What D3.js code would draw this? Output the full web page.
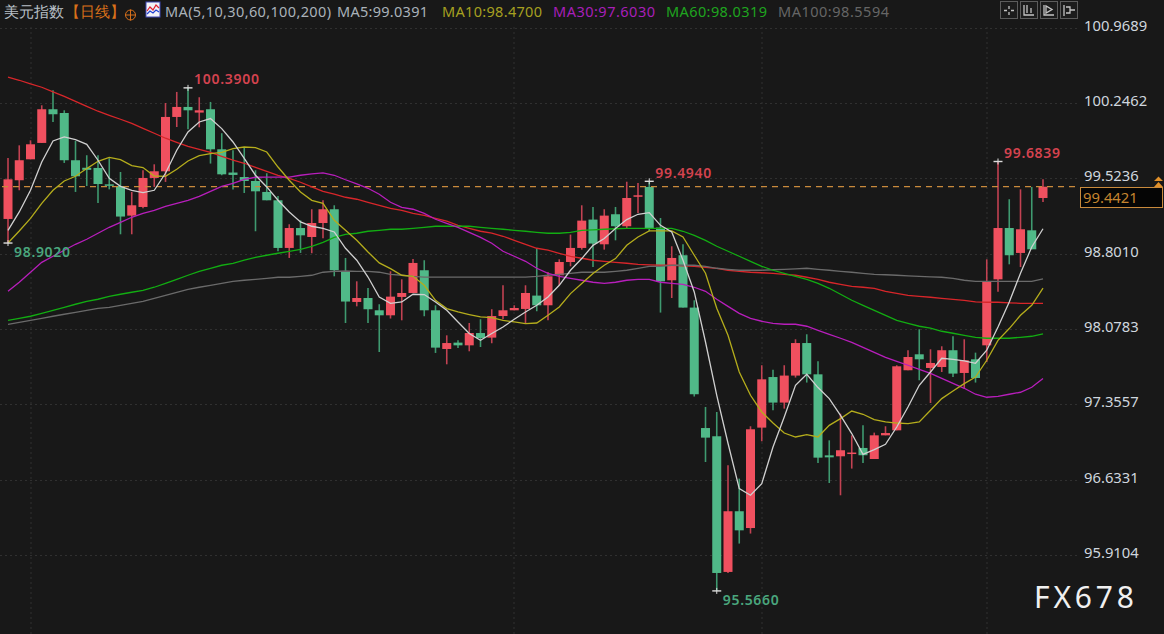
<!DOCTYPE html>
<html><head><meta charset="utf-8">
<script src="https://cdnjs.cloudflare.com/ajax/libs/d3/7.8.5/d3.min.js"></script>
<style>
html,body{margin:0;padding:0;background:#181818;overflow:hidden}
svg{display:block}
text{font-family:"Noto Sans","Liberation Sans",sans-serif}
</style></head><body>
<svg id="c" width="1164" height="634"></svg>
<script>
const tickValues=[100.9689,100.2462,99.5236,98.8010,98.0783,97.3557,96.6331,95.9104];
const lastPrice=99.4421;
const opens=[99.133,99.504,99.705,99.862,100.185,100.149,99.696,99.624,99.622,99.465,
99.449,99.165,99.248,99.526,99.590,100.111,100.207,100.153,100.185,99.801,
99.578,99.535,99.497,99.392,99.312,98.855,99.046,98.960,99.094,99.226,
98.631,98.337,98.375,98.257,98.209,98.385,98.423,98.641,98.257,97.886,
97.947,97.921,98.039,97.995,98.202,98.257,98.270,98.398,98.305,98.593,
98.720,98.855,99.127,98.890,99.178,99.063,99.350,99.440,99.050,98.545,
98.785,98.283,97.128,97.049,95.748,96.330,96.169,97.132,97.617,97.372,
97.631,97.943,97.643,96.866,96.857,96.883,96.937,96.831,97.058,97.106,
97.682,97.835,97.704,97.713,97.874,97.656,97.787,97.921,98.554,99.046,
98.807,99.024,99.334];
const closes=[99.513,99.696,99.849,100.185,100.137,99.696,99.542,99.604,99.468,99.453,
99.156,99.264,99.526,99.590,100.111,100.207,100.175,100.175,99.801,99.561,
99.555,99.497,99.398,99.312,98.855,99.046,98.976,99.094,99.226,98.641,
98.341,98.375,98.267,98.209,98.388,98.423,98.711,98.257,97.899,97.943,
97.921,98.039,97.991,98.202,98.257,98.279,98.423,98.305,98.583,98.720,
98.855,99.117,98.897,99.165,99.063,99.334,99.360,99.041,98.535,98.759,
98.283,97.452,97.036,95.738,96.330,96.147,97.116,97.595,97.372,97.631,
97.943,97.643,96.844,96.847,96.915,96.893,96.867,97.058,97.080,97.720,
97.809,97.787,97.752,97.874,97.650,97.778,97.608,98.538,99.046,98.785,
99.034,98.842,99.4421];
const highs=[99.718,99.839,99.887,100.223,100.367,100.175,99.881,99.744,99.744,99.715,
99.583,99.392,99.600,99.657,100.245,100.351,100.390,100.300,100.255,99.955,
99.792,99.820,99.600,99.571,99.353,99.082,99.120,99.226,99.312,99.264,
98.759,98.535,98.471,98.315,98.631,98.554,98.749,98.737,98.305,98.017,
97.969,98.135,98.171,98.267,98.497,98.305,98.497,98.855,98.624,98.746,
98.983,99.264,99.248,99.226,99.248,99.490,99.478,99.494,99.142,98.871,
98.890,98.353,97.330,97.282,96.771,96.643,97.145,97.730,97.688,97.730,
97.979,98.027,97.768,97.010,97.266,97.058,97.154,97.084,97.145,97.730,
97.874,98.075,97.883,97.912,98.008,97.979,97.851,98.746,99.6839,99.322,
99.417,99.440,99.513];
const lows=[98.902,99.408,99.705,99.862,100.063,99.670,99.392,99.449,99.286,99.417,
98.986,98.986,99.235,99.440,99.488,100.015,99.993,100.012,99.664,99.552,
99.415,99.382,99.015,99.312,98.823,98.759,98.807,98.804,98.948,98.583,
98.135,98.295,98.135,97.857,98.178,98.161,98.423,98.200,97.848,97.739,
97.896,97.864,97.905,97.941,98.171,98.257,98.130,98.248,98.161,98.497,
98.679,98.839,98.672,98.839,98.928,99.043,99.190,99.015,98.235,98.375,
98.283,97.430,96.802,95.566,95.738,96.020,96.116,97.001,97.298,97.314,
97.612,97.564,96.793,96.601,96.483,96.739,96.793,96.831,97.058,97.106,
97.682,97.586,97.368,97.665,97.617,97.509,97.564,97.761,98.436,98.698,
98.672,98.842,99.296];
const ma5=[99.024,99.200,99.408,99.679,99.881,99.919,99.894,99.849,99.696,99.523,99.446,99.408,99.386,99.408,99.571,99.792,99.967,100.063,100.096,99.999,99.871,99.715,99.552,
99.440,99.312,99.200,99.104,99.063,99.043,99.008,98.852,98.737,98.576,98.385,98.324,98.337,98.411,98.408,98.337,98.257,98.145,98.034,97.969,98.034,98.097,98.171,
98.241,98.305,98.385,98.497,98.641,98.753,98.880,98.945,99.041,99.127,99.178,99.194,99.072,99.008,98.737,98.433,
97.953,97.442,96.982,96.547,96.483,96.595,96.946,97.234,97.538,97.643,97.516,97.410,97.250,97.075,96.876,96.921,96.972,
97.138,97.330,97.538,97.665,97.797,97.787,97.771,97.749,97.874,98.097,98.337,98.612,98.864,99.0391];
const ma10=[98.903,99.018,99.139,99.283,99.408,99.497,99.542,99.616,99.686,99.724,99.702,99.645,99.626,99.545,99.542,99.609,99.689,99.741,99.760,99.772,99.808,99.823,99.817,
99.775,99.631,99.504,99.392,99.312,99.283,99.120,99.024,98.928,98.816,98.711,98.657,98.593,98.583,98.497,98.353,98.273,98.241,98.216,98.193,98.187,98.161,98.145,
98.130,98.135,98.209,98.289,98.417,98.513,98.609,98.689,98.753,98.880,98.960,99.018,99.018,99.018,98.960,98.785,
98.612,98.276,98.017,97.665,97.442,97.282,97.176,97.080,97.042,97.065,97.042,97.154,97.218,97.291,97.260,97.209,97.186,
97.176,97.171,97.186,97.298,97.410,97.483,97.554,97.617,97.778,97.969,98.082,98.209,98.305,98.4700];
const ma30=[98.439,98.526,98.622,98.717,98.775,98.833,98.890,98.938,98.996,99.053,99.101,99.149,99.187,99.216,99.254,99.283,99.312,99.350,99.398,99.446,99.475,99.513,99.533,
99.535,99.535,99.535,99.552,99.566,99.574,99.552,99.509,99.470,99.427,99.370,99.293,99.245,99.226,99.187,99.130,99.091,99.053,99.005,98.957,98.900,98.823,98.775,
98.727,98.660,98.612,98.583,98.564,98.545,98.526,98.516,98.526,98.545,98.554,98.554,98.526,98.516,98.506,98.478,
98.439,98.363,98.295,98.228,98.180,98.152,98.132,98.123,98.123,98.104,98.065,98.027,97.989,97.950,97.902,97.854,97.806,
97.768,97.730,97.691,97.653,97.605,97.557,97.509,97.452,97.423,97.432,97.452,97.471,97.519,97.6030];
const ma60=[98.161,98.180,98.200,98.228,98.257,98.286,98.315,98.343,98.363,98.391,98.411,98.430,98.449,98.478,98.516,98.554,98.593,98.631,98.660,98.689,98.708,98.737,98.765,
98.785,98.804,98.823,98.842,98.871,98.909,98.957,98.986,98.996,99.015,99.024,99.034,99.034,99.043,99.053,99.063,99.063,99.063,99.063,99.053,99.043,99.034,99.024,
99.015,99.005,98.996,98.996,99.005,99.024,99.029,99.034,99.039,99.043,99.043,99.043,99.043,99.043,99.015,98.976,
98.928,98.871,98.823,98.775,98.727,98.679,98.641,98.612,98.583,98.554,98.516,98.468,98.411,98.353,98.305,98.257,98.209,
98.161,98.132,98.104,98.085,98.056,98.037,98.017,97.998,97.989,97.989,97.989,97.998,98.008,98.0319];
const ma100=[98.123,98.142,98.161,98.180,98.200,98.219,98.238,98.257,98.276,98.286,98.305,98.324,98.343,98.372,98.401,98.430,98.458,98.478,98.497,98.516,98.535,98.545,98.554,
98.564,98.574,98.574,98.583,98.593,98.622,98.631,98.634,98.631,98.631,98.622,98.602,98.593,98.583,98.576,98.576,98.576,98.576,98.576,98.576,98.576,98.576,98.576,
98.576,98.583,98.593,98.602,98.612,98.622,98.622,98.622,98.631,98.641,98.660,98.679,98.679,98.689,98.689,98.689,
98.679,98.660,98.650,98.641,98.641,98.641,98.646,98.650,98.655,98.660,98.650,98.641,98.631,98.622,98.612,98.602,98.598,
98.593,98.588,98.583,98.578,98.574,98.564,98.545,98.535,98.535,98.535,98.535,98.535,98.535,98.5594];
const ma200=[100.494,100.463,100.429,100.396,100.351,100.309,100.261,100.213,100.166,100.127,100.089,100.050,100.002,99.955,99.907,99.868,99.830,99.801,99.772,99.734,99.696,99.667,99.628,
99.590,99.552,99.523,99.485,99.440,99.398,99.370,99.341,99.322,99.293,99.264,99.235,99.216,99.187,99.168,99.139,99.111,99.072,99.043,99.015,98.996,98.967,98.928,
98.890,98.852,98.833,98.804,98.775,98.756,98.737,98.727,98.717,98.708,98.698,98.693,98.689,98.689,98.684,98.679,
98.670,98.660,98.641,98.631,98.622,98.617,98.612,98.602,98.593,98.574,98.554,98.526,98.506,98.487,98.478,98.468,98.439,
98.420,98.401,98.391,98.382,98.372,98.362,98.353,98.337,98.334,98.334,98.329,98.324,98.324,98.324];
const maNames=["MA5","MA10","MA30","MA60","MA100","MA200"];
const maColors=["#d0d0d0","#b5ad1c","#b81ebc","#12ad12","#6a6a6a","#d8262a"];
const legendTexts=["MA5:99.0391","MA10:98.4700","MA30:97.6030","MA60:98.0319","MA100:98.5594"];
const legendColors=["#aab2ba","#a7a020","#a81fb8","#1fa51f","#666666"];
const markIdx=[0,16,57,63,88];
const markVal=[98.9020,100.3900,99.4940,95.5660,99.6839];
const markUp=[false,true,true,false,true];

const W=1164,H=634;
const svg=d3.select("#c");
svg.append("rect").attr("width",W).attr("height",H).attr("fill","#181818");
const n=opens.length;
const x=d3.scaleLinear().domain([0,n-1]).range([8,1043]);
const y=d3.scaleLinear().domain([100.9689,95.9104]).range([27.5,555]);

// grid
const grid=svg.append("g").attr("stroke","#303030").attr("stroke-width",1).attr("stroke-dasharray","2 3");
grid.selectAll("line.h").data(tickValues).join("line").attr("x1",0).attr("x2",1080)
 .attr("y1",d=>Math.round(y(d))+.5).attr("y2",d=>Math.round(y(d))+.5);
grid.selectAll("line.v").data([2,45,67,87]).join("line")
 .attr("x1",d=>Math.round(x(d))).attr("x2",d=>Math.round(x(d))).attr("y1",27).attr("y2",634);

// axis
const axis=d3.axisRight(y).tickValues(tickValues).tickSize(0).tickPadding(0).tickFormat(d=>d.toFixed(4));
const ag=svg.append("g").attr("transform","translate(1084,0)").call(axis);
ag.select(".domain").remove();
ag.selectAll("text").attr("fill","#cfd6de").attr("font-size",14.8).attr("dy","0.18em");

// candles
const isUp=i=>closes[i]>=opens[i];
const red="#f0505f",green="#50b988",redW="#c24252",greenW="#3f9a70";
const g=svg.append("g");
const idx=d3.range(n);
g.selectAll("line.w").data(idx).join("line")
 .attr("x1",i=>x(i)).attr("x2",i=>x(i)).attr("y1",i=>y(highs[i])).attr("y2",i=>y(lows[i]))
 .attr("stroke",i=>isUp(i)?redW:greenW).attr("stroke-width",1.6);
g.selectAll("rect").data(idx).join("rect")
 .attr("x",i=>x(i)-4.5).attr("width",9)
 .attr("y",i=>y(Math.max(opens[i],closes[i])))
 .attr("height",i=>Math.max(1.5,Math.abs(y(opens[i])-y(closes[i]))))
 .attr("fill",i=>isUp(i)?red:green);

// last-price line
svg.append("line").attr("x1",2).attr("x2",1080).attr("y1",y(lastPrice)).attr("y2",y(lastPrice))
 .attr("stroke","#c98a3c").attr("stroke-width",1.2).attr("stroke-dasharray","6 5");

// moving averages
const line=d3.line().x((d,i)=>x(i)).y(d=>y(d));
[ma200,ma100,ma60,ma30,ma10,ma5].forEach((s,k)=>{
 svg.append("path").datum(s).attr("d",line).attr("fill","none")
  .attr("stroke",maColors[5-k]).attr("stroke-width",1.3);
});

// high / low markers
markIdx.forEach((m,k)=>{
 const px=x(m),py=y(markVal[k]);
 svg.append("line").attr("x1",px-4.5).attr("x2",px+4.5).attr("y1",py).attr("y2",py).attr("stroke","#dcdcdc").attr("stroke-width",1.4);
 svg.append("line").attr("x1",px).attr("x2",px).attr("y1",py-3).attr("y2",py+3).attr("stroke","#dcdcdc").attr("stroke-width",1);
 svg.append("text").attr("x",px+6).attr("y",markUp[k]?py-3.5:py+14)
  .attr("fill",markUp[k]?"#d4434f":"#4aa67d").attr("font-size",14).attr("font-weight",600)
  .attr("font-family",'"Liberation Sans",sans-serif').attr("textLength",markVal[k]>=100?65:56)
  .text(markVal[k].toFixed(4));
});

// header
const hdr=svg.append("g").attr("font-size",14.5);
hdr.append("text").attr("x",4).attr("y",17).attr("fill","#b9c0c7").attr("font-size",14.5)
 .attr("font-family",'"Noto Sans CJK SC",sans-serif').text("美元指数");
hdr.append("text").attr("x",65).attr("y",17).attr("fill","#d8701a").attr("font-size",14.5)
 .attr("font-family",'"Noto Sans CJK SC",sans-serif').text("【日线】");
const o=svg.append("g").attr("stroke","#d8701a").attr("fill","none").attr("stroke-width",1);
o.append("circle").attr("cx",130.5).attr("cy",15).attr("r",5);
o.append("line").attr("x1",125).attr("x2",136).attr("y1",15).attr("y2",15);
o.append("line").attr("x1",130.5).attr("x2",130.5).attr("y1",9.5).attr("y2",20.5);
// MA icon
svg.append("rect").attr("x",146).attr("y",2).attr("width",14).attr("height",15).attr("fill","#f2f2f6").attr("stroke","#3c46b4");
svg.append("path").attr("d","M147 11 L150 7 L153 10 L156 5 L159 8").attr("fill","none").attr("stroke","#e02030").attr("stroke-width",1.2);
svg.append("path").attr("d","M147 14 L150 11 L153 13 L156 10 L159 12").attr("fill","none").attr("stroke","#2040d0").attr("stroke-width",1.2);

hdr.append("text").attr("x",165).attr("y",17).attr("fill","#aab2ba").attr("textLength",166).text("MA(5,10,30,60,100,200)");
const lx=[337,442,553,666,778],lw=[91,100,102,101,111];
legendTexts.forEach((t,i)=>{
 hdr.append("text").attr("x",lx[i]).attr("y",17).attr("fill",legendColors[i]).attr("textLength",lw[i]).text(t);
});

// toolbar
const tb=svg.append("g");
[1000,1020,1040,1060].forEach((bx,i)=>{
 tb.append("rect").attr("x",bx+.5).attr("y",1.5).attr("width",17).attr("height",17).attr("fill","#1c1c1c").attr("stroke","#5c5c5c");
 const p=["M509 6v3M509 12v3M504 10.5h3M511 10.5h3",
          "M504 5v10h10M507 5v8M511 8v5M504 15h10",
          "M504 5v10h10M506 6v7l6-3.5z",
          "M504 5v11M506 7h4v6h-4M510 10h5"][i];
 tb.append("path").attr("d",p).attr("transform",`translate(${bx-500},0)`).attr("fill","none").attr("stroke","#c4c4c4").attr("stroke-width",1.3);
});

// last price box
svg.append("rect").attr("x",1080.5).attr("y",187.5).attr("width",82).attr("height",20).attr("fill","#050505").attr("stroke","#c98a3c");
svg.append("text").attr("x",1083).attr("y",203).attr("fill","#c4842f").attr("font-size",14.8).text(lastPrice.toFixed(4));
svg.append("path").attr("d","M1154 181 L1158.5 176.5 L1163 181 Z M1154 187 L1158.5 182 L1163 187 Z").attr("fill","#e0902a");

// watermark
svg.append("text").attr("x",1034).attr("y",608).attr("fill","#f0f0f0").attr("font-size",30)
 .attr("font-family",'"Liberation Sans",sans-serif').attr("textLength",100).text("FX678");
</script>
</body></html>
